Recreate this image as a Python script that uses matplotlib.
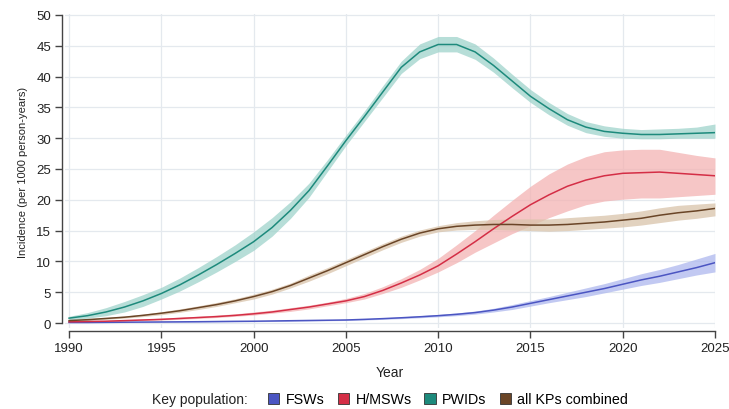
import numpy as np
import matplotlib.pyplot as plt
from matplotlib.patches import Patch

plt.rcParams['font.family'] = ['Liberation Sans', 'DejaVu Sans']

years = np.arange(1990, 2026)

pwid = [0.8, 1.2, 1.8, 2.6, 3.6, 4.8, 6.2, 7.8, 9.5, 11.3,
        13.2, 15.5, 18.3, 21.5, 25.5, 29.6, 33.5, 37.5, 41.5, 44.0,
        45.2, 45.2, 44.0, 41.8, 39.3, 36.8, 34.8, 33.0, 31.8, 31.1,
        30.8, 30.6, 30.6, 30.7, 30.8, 30.9]
pwid_lo = [0.5, 0.8, 1.2, 1.8, 2.7, 3.9, 5.2, 6.7, 8.3, 10.0,
           11.8, 14.1, 17.0, 20.4, 24.6, 28.8, 32.7, 36.6, 40.5, 42.9,
           44.0, 44.0, 42.8, 40.7, 38.2, 35.8, 33.8, 32.1, 30.9, 30.3,
           30.0, 29.9, 29.9, 30.0, 30.0, 30.0]
pwid_hi = [1.1, 1.7, 2.5, 3.5, 4.6, 5.8, 7.3, 9.0, 10.8, 12.7,
           14.8, 17.1, 19.7, 22.7, 26.5, 30.5, 34.4, 38.5, 42.5, 45.3,
           46.5, 46.5, 45.3, 43.0, 40.4, 37.9, 35.8, 34.0, 32.7, 32.0,
           31.6, 31.4, 31.5, 31.6, 31.8, 32.3]

hmsw = [0.2, 0.25, 0.3, 0.4, 0.5, 0.6, 0.75, 0.9, 1.05, 1.25,
        1.5, 1.8, 2.2, 2.6, 3.1, 3.6, 4.3, 5.3, 6.5, 7.8,
        9.3, 11.2, 13.2, 15.3, 17.3, 19.2, 20.8, 22.2, 23.2, 23.9,
        24.3, 24.4, 24.5, 24.3, 24.1, 23.9]
hmsw_lo = [0.1, 0.15, 0.2, 0.3, 0.4, 0.5, 0.6, 0.75, 0.9, 1.1,
           1.3, 1.6, 1.9, 2.3, 2.8, 3.3, 3.9, 4.8, 5.8, 7.0,
           8.3, 9.8, 11.5, 13.0, 14.5, 15.8, 17.1, 18.2, 19.2, 19.8,
           20.1, 20.3, 20.3, 20.5, 20.7, 20.9]
hmsw_hi = [0.3, 0.35, 0.45, 0.55, 0.65, 0.8, 0.95, 1.1, 1.3, 1.5,
           1.8, 2.1, 2.5, 2.9, 3.4, 4.0, 4.8, 5.9, 7.2, 8.7,
           10.5, 12.7, 15.0, 17.5, 19.9, 22.2, 24.2, 25.8, 27.0, 27.8,
           28.1, 28.2, 28.2, 27.7, 27.2, 26.8]

fsw = [0.1, 0.1, 0.12, 0.14, 0.16, 0.18, 0.2, 0.22, 0.25, 0.28,
       0.3, 0.34, 0.38, 0.42, 0.46, 0.5, 0.6, 0.72, 0.86, 1.02,
       1.2, 1.42, 1.7, 2.1, 2.6, 3.2, 3.8, 4.4, 5.0, 5.6,
       6.3, 7.0, 7.6, 8.3, 9.0, 9.8]
fsw_lo = [0.05, 0.05, 0.07, 0.09, 0.1, 0.12, 0.14, 0.16, 0.18, 0.2,
          0.22, 0.26, 0.3, 0.34, 0.38, 0.42, 0.5, 0.6, 0.72, 0.86,
          1.02, 1.2, 1.45, 1.8, 2.2, 2.75, 3.3, 3.8, 4.3, 4.9,
          5.5, 6.1, 6.6, 7.2, 7.8, 8.3]
fsw_hi = [0.15, 0.15, 0.17, 0.19, 0.22, 0.24, 0.26, 0.28, 0.32, 0.36,
          0.38, 0.42, 0.46, 0.5, 0.55, 0.6, 0.7, 0.85, 1.0, 1.2,
          1.4, 1.65, 1.95, 2.4, 3.0, 3.65, 4.3, 5.0, 5.7, 6.4,
          7.2, 8.0, 8.7, 9.5, 10.4, 11.3]

allkp = [0.4, 0.55, 0.75, 0.95, 1.25, 1.6, 2.0, 2.5, 3.0, 3.6,
         4.3, 5.1, 6.1, 7.3, 8.5, 9.8, 11.1, 12.4, 13.6, 14.6,
         15.3, 15.7, 15.9, 16.0, 16.0, 15.9, 15.9, 16.0, 16.2, 16.4,
         16.7, 17.0, 17.5, 17.9, 18.2, 18.6]
allkp_lo = [0.3, 0.4, 0.6, 0.8, 1.05, 1.35, 1.75, 2.2, 2.7, 3.3,
            3.9, 4.7, 5.7, 6.8, 8.0, 9.3, 10.6, 11.9, 13.1, 14.1,
            14.8, 15.1, 15.2, 15.2, 15.1, 15.0, 14.9, 15.0, 15.2, 15.4,
            15.6, 15.9, 16.3, 16.7, 17.0, 17.4]
allkp_hi = [0.5, 0.7, 0.9, 1.15, 1.45, 1.85, 2.3, 2.8, 3.35, 3.95,
            4.7, 5.5, 6.5, 7.8, 9.0, 10.3, 11.6, 12.9, 14.1, 15.1,
            15.8, 16.3, 16.6, 16.8, 16.9, 16.9, 16.9, 17.1, 17.3, 17.5,
            17.8, 18.2, 18.7, 19.1, 19.3, 19.5]

series = [
    ("FSWs", fsw, fsw_lo, fsw_hi, "#4b55c2", "#aeb8ee"),
    ("H/MSWs", hmsw, hmsw_lo, hmsw_hi, "#d42e46", "#f3b3b3"),
    ("PWIDs", pwid, pwid_lo, pwid_hi, "#1d8a7c", "#9fd3cb"),
    ("all KPs combined", allkp, allkp_lo, allkp_hi, "#6a4527", "#d9c3aa"),
]

fig = plt.figure(figsize=(7.29, 4.10), dpi=100)
ax = fig.add_axes([65 / 729, 1 - 329 / 410, 650 / 729, 314 / 410])

# bands first, then the central lines on top
for name, mid, lo, hi, lc, fc in series:
    ax.fill_between(years, lo, hi, color=fc, alpha=0.75, lw=0, zorder=2)
for name, mid, lo, hi, lc, fc in series:
    ax.plot(years, mid, color=lc, lw=1.1, zorder=3)

ax.set_xlim(1989.78, 2025)
ax.set_ylim(-0.8, 50.15)
ax.set_xticks(np.arange(1990, 2026, 5))
ax.set_yticks(np.arange(0, 51, 5))
ax.grid(True, color="#e4e9ee", lw=0.9, zorder=0)
ax.set_axisbelow(True)

for s in ["top", "right"]:
    ax.spines[s].set_visible(False)
ax.spines["left"].set_position(("outward", 2))
ax.spines["bottom"].set_position(("outward", 2))
ax.spines["left"].set_bounds(0, 50)
ax.spines["bottom"].set_bounds(1990, 2025)
for s in ["left", "bottom"]:
    ax.spines[s].set_color("#444444")
    ax.spines[s].set_linewidth(1.0)
ax.tick_params(axis="both", direction="out", length=5, width=1.0,
               color="#444444", labelsize=9.5, labelcolor="#222222", pad=3)

ax.set_xlabel("Year", fontsize=10, color="#222222", labelpad=8)
ax.set_ylabel("Incidence (per 1000 person-years)", fontsize=8, color="#222222", labelpad=6)

fig.text(152 / 729, 1 - 400 / 410, "Key population:", fontsize=10, color="#222222",
         ha="left", va="center")
handles = [Patch(facecolor=lc, edgecolor="#333333", lw=0.6, label=name)
           for name, mid, lo, hi, lc, fc in series]
fig.legend(handles=handles, loc="center left", bbox_to_anchor=(268 / 729, 1 - 400 / 410),
           ncol=4, frameon=False, fontsize=10.3, handlelength=0.8, handleheight=0.8,
           handletextpad=0.45, columnspacing=0.9, borderaxespad=0, borderpad=0)

fig.savefig("out.png", dpi=100)
